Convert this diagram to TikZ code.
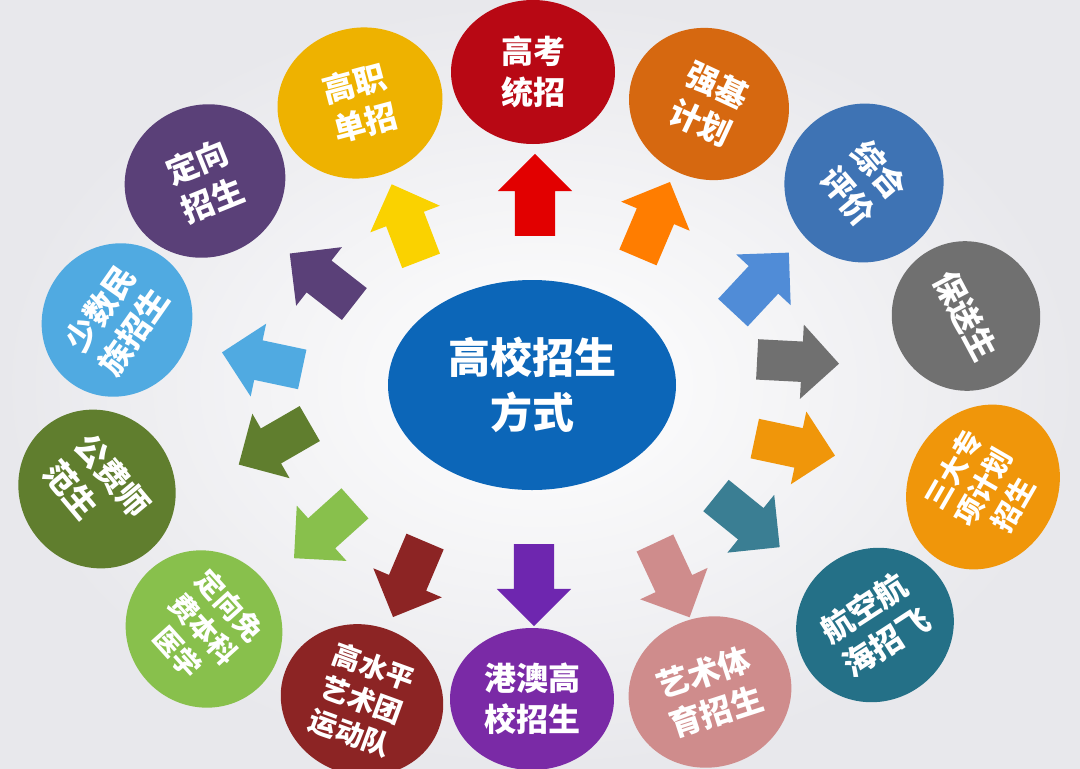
\documentclass[tikz,border=0pt]{standalone}
\usepackage{fontspec}
\newfontfamily\cjk{Noto Sans CJK SC}
\usetikzlibrary{shapes.geometric,shapes.arrows}
\definecolor{bgray}{RGB}{232,232,236}
\definecolor{hubblue}{RGB}{12,102,184}
% circle colours
\definecolor{gkred}{RGB}{184,8,20}
\definecolor{qjorange}{RGB}{214,104,16}
\definecolor{zhblue}{RGB}{62,115,180}
\definecolor{bsgray}{RGB}{112,112,112}
\definecolor{sdorange}{RGB}{240,150,10}
\definecolor{hkteal}{RGB}{36,112,135}
\definecolor{ytpink}{RGB}{207,140,140}
\definecolor{gapurple}{RGB}{122,42,166}
\definecolor{gsred}{RGB}{140,36,36}
\definecolor{dxgreen}{RGB}{136,192,76}
\definecolor{gfolive}{RGB}{96,126,46}
\definecolor{ssblue}{RGB}{80,170,225}
\definecolor{dzpurple}{RGB}{90,64,120}
\definecolor{gzgold}{RGB}{238,178,0}
% arrow colours
\definecolor{arred}{RGB}{226,0,0}
\definecolor{arorange}{RGB}{255,125,0}
\definecolor{arblue}{RGB}{80,140,215}
\definecolor{aryellow}{RGB}{250,210,0}

\begin{document}
\begin{tikzpicture}[x=1pt,y=-1pt,
  way/.style={ellipse, fill=#1, text=white, inner sep=0pt, align=center,
    font=\cjk\bfseries\fontsize{32}{41}\selectfont},
  threeline/.style={font=\cjk\bfseries\fontsize{28}{35}\selectfont},
  arr/.style={single arrow, fill=#1, minimum height=82pt, text height=20pt,
    text depth=20pt, inner sep=0pt, single arrow head extend=17pt}]
% Background
\shade[inner color=white, outer color=bgray] (0,0) rectangle (1080,769);
\useasboundingbox (0,0) rectangle (1080,769);

% Hub
\node[ellipse, fill=hubblue, text=white, minimum width=288pt, minimum height=210pt,
  inner sep=0pt, align=center, font=\cjk\bfseries\fontsize{42}{55}\selectfont]
  (hub) at (532,385) {高校招生\\方式};

% Ways round the hub
\node[way=gkred, minimum width=164pt, minimum height=144pt] (gaokao) at (533,72) {高考\\统招};
\node[way=qjorange, minimum width=162pt, minimum height=150pt, rotate=-25] (qiangji) at (709,104) {强基\\计划};
\node[way=zhblue, minimum width=158pt, minimum height=160pt, rotate=-50] (zonghe) at (864,183) {综合\\评价};
\node[way=bsgray, minimum width=150pt, minimum height=148pt, rotate=-62] (baosong) at (966,316) {保送生};
\node[way=sdorange, threeline, minimum width=170pt, minimum height=148pt, rotate=60] (sanda) at (983,487) {三大专\\项计划\\招生};
\node[way=hkteal, minimum width=160pt, minimum height=152pt, rotate=33] (hangkong) at (875,625) {航空航\\海招飞};
\node[way=ytpink, minimum width=164pt, minimum height=150pt, rotate=18] (yiti) at (710,692) {艺术体\\育招生};
\node[way=gapurple, minimum width=164pt, minimum height=142pt] (gangao) at (532,699) {港澳高\\校招生};
\node[way=gsred, threeline, minimum width=164pt, minimum height=150pt, rotate=-20] (gaoshui) at (362,700) {高水平\\艺术团\\运动队};
\node[way=dxgreen, threeline, minimum width=160pt, minimum height=154pt, rotate=-48] (mianfei) at (204,629) {定向免\\费本科\\医学};
\node[way=gfolive, align=left, minimum width=162pt, minimum height=154pt, rotate=-50] (gongfei) at (97,489) {公费师\\范生};
\node[way=ssblue, minimum width=156pt, minimum height=148pt, rotate=55] (minzu) at (117,320) {少数民\\族招生};
\node[way=dzpurple, minimum width=162pt, minimum height=152pt, rotate=22] (dingxiang) at (205,181) {定向\\招生};
\node[way=gzgold, minimum width=166pt, minimum height=150pt, rotate=15] (gaozhi) at (360,103) {高职\\单招};

% Arrows out of the hub
\node[arr=arred, rotate=90] (toGaokao) at (535,205) {};
\node[arr=arorange, rotate=67] (toQiangji) at (650,229) {};
\node[arr=arblue, rotate=47] (toZonghe) at (754,290) {};
\node[arr=bsgray, rotate=-3] (toBaosong) at (788,361) {};
\node[arr=sdorange, rotate=-12] (toSanda) at (785,445) {};
\node[arr=hkteal!90, rotate=-39] (toHangkong) at (740,515) {};
\node[arr=ytpink, rotate=-65] (toYiti) at (668,571) {};
\node[arr=gapurple!90!blue, rotate=-90] (toGangao) at (534,575) {};
\node[arr=gsred, rotate=-113] (toGaoshui) at (413,570) {};
\node[arr=dxgreen, rotate=-138] (toMianfei) at (332,524) {};
\node[arr=gfolive, rotate=-150] (toGongfei) at (283,439) {};
\node[arr=ssblue, rotate=168] (toMinzu) at (272,363) {};
\node[arr=dzpurple, rotate=142] (toDingxiang) at (330,285) {};
\node[arr=aryellow, rotate=111] (toGaozhi) at (410,232) {};
\end{tikzpicture}
\end{document}
